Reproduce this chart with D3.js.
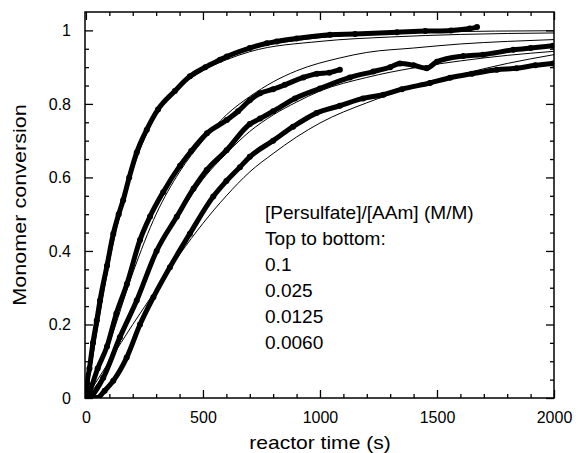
<!DOCTYPE html>
<html>
<head>
<meta charset="utf-8">
<script src="https://cdn.jsdelivr.net/npm/d3@7"></script>
<style>
  body { margin: 0; background: #fff; }
  svg { display: block; }
  text { font-family: "Liberation Sans", Arial, sans-serif; fill: #000; }
</style>
</head>
<body>
<svg id="chart" width="578" height="453"></svg>
<script>
// measured series, [time (s), conversion], top to bottom
const data01 = [[0,0],[5,0.04],[15,0.08],[30,0.15],[46,0.21],[60,0.265],[90,0.36],[117,0.447],[140,0.5],[159,0.538],[185,0.6],[217,0.668],[260,0.73],[308,0.785],[380,0.835],[444,0.875],[510,0.9],[573,0.92],[602,0.929],[700,0.952],[773,0.965],[815,0.97],[900,0.978],[1043,0.988],[1150,0.99],[1329,0.995],[1450,0.998],[1560,1.0],[1640,1.005],[1671,1.009]]
const data025 = [[0,0],[17,0.02],[50,0.08],[90,0.14],[130,0.23],[175,0.31],[231,0.43],[274,0.494],[330,0.56],[402,0.632],[450,0.672],[517,0.72],[602,0.756],[650,0.78],[700,0.81],[744,0.829],[800,0.84],[850,0.852],[929,0.872],[987,0.882],[1040,0.885],[1085,0.893]]
const data0125 = [[0,0],[30,0.01],[74,0.055],[145,0.165],[217,0.265],[302,0.4],[388,0.493],[460,0.57],[516,0.62],[601,0.674],[700,0.745],[744,0.76],[800,0.78],[893,0.815],[1000,0.842],[1128,0.872],[1228,0.888],[1300,0.9],[1342,0.91],[1400,0.905],[1456,0.897],[1500,0.915],[1612,0.93],[1697,0.934],[1826,0.947],[1900,0.952],[1996,0.958]]
const data0060 = [[0,0],[46,0],[80,0.02],[117,0.047],[174,0.11],[231,0.2],[288,0.274],[359,0.356],[444,0.447],[544,0.548],[600,0.59],[658,0.628],[700,0.656],[800,0.7],[885,0.738],[985,0.775],[1085,0.795],[1184,0.815],[1271,0.825],[1350,0.84],[1470,0.857],[1556,0.871],[1650,0.882],[1756,0.893],[1840,0.897],[1920,0.905],[1996,0.91]]
const measured = [data01, data025, data0125, data0060]

// model curves (thin lines)
const model01 = [[0,0],[50,0.2],[100,0.38],[150,0.52],[200,0.63],[300,0.775],[400,0.855],[500,0.9],[600,0.93],[700,0.95],[800,0.963],[1000,0.98],[1200,0.99],[1500,0.996],[2000,0.999]]
const model01b = [[0,0],[50,0.19],[100,0.37],[150,0.51],[200,0.62],[300,0.77],[400,0.845],[500,0.89],[600,0.92],[700,0.942],[1000,0.97],[1300,0.982],[1600,0.989],[2000,0.993]]
const model025 = [[0,0],[100,0.15],[200,0.34],[300,0.5],[400,0.615],[500,0.7],[600,0.77],[700,0.82],[800,0.86],[900,0.89],[1085,0.925],[1200,0.94],[1400,0.952],[1600,0.963],[1800,0.97],[2000,0.975]]
const model0125 = [[0,0],[100,0.09],[200,0.24],[300,0.39],[400,0.5],[500,0.595],[600,0.665],[700,0.725],[800,0.77],[900,0.805],[1000,0.835],[1200,0.872],[1400,0.898],[1600,0.917],[1800,0.932],[2000,0.943]]
const model0060 = [[0,0],[100,0.1],[200,0.2],[300,0.295],[400,0.39],[500,0.475],[600,0.55],[700,0.615],[800,0.665],[900,0.71],[1000,0.748],[1200,0.803],[1400,0.846],[1600,0.88],[1800,0.91],[2000,0.934]]
const models = [model01, model01b, model025, model0125, model0060]

const xTicks = [0, 500, 1000, 1500, 2000]
const yTicks = [0, 0.2, 0.4, 0.6, 0.8, 1]
const yTickLabels = ["0", "0.2", "0.4", "0.6", "0.8", "1"]
const legendLines = ["[Persulfate]/[AAm] (M/M)", "Top to bottom:", "0.1", "0.025", "0.0125", "0.0060"]

const svg = d3.select("#chart")
const mLeft = 85, mRight = 554, mTop = 12, mBottom = 398

const x = d3.scaleLinear().domain([-4, 2000]).range([mLeft, mRight])
const y = d3.scaleLinear().domain([0, 1.05]).range([mBottom, mTop])

svg.append("clipPath").attr("id", "clip")
    .append("rect").attr("x", mLeft).attr("y", mTop).attr("width", mRight - mLeft).attr("height", mBottom - mTop)

const path = d3.line().x(d => x(d[0])).y(d => y(d[1])).curve(d3.curveMonotoneX)

const marks = svg.append("g").attr("clip-path", "url(#clip)")

measured.forEach(s => {
    marks.append("path")
        .attr("d", path(s))
        .attr("fill", "none")
        .attr("stroke", "#000")
        .attr("stroke-width", 5)
    marks.append("g").selectAll("circle")
        .data(s)
        .enter()
        .append("circle")
        .attr("cx", d => x(d[0]))
        .attr("cy", d => y(d[1]))
        .attr("r", 3)
        .attr("fill", "#000")
})

models.forEach(s => {
    marks.append("path")
        .attr("d", path(s))
        .attr("fill", "none")
        .attr("stroke", "#000")
        .attr("stroke-width", 1)
})

// frame
svg.append("rect")
    .attr("x", mLeft).attr("y", mTop)
    .attr("width", mRight - mLeft).attr("height", mBottom - mTop)
    .attr("fill", "none").attr("stroke", "#000").attr("stroke-width", 1.5)

// inward ticks on all four sides
const minorX = d3.range(100, 2000, 100).filter(v => v % 500)
const minorY = d3.range(0.05, 1.05, 0.05).filter(v => Math.abs(v * 5 - Math.round(v * 5)) > 1e-6)

const axB = d3.axisBottom(x).tickValues(xTicks).tickSizeInner(-8).tickSizeOuter(0).tickFormat(d3.format("d")).tickPadding(14)
const axT = d3.axisTop(x).tickValues(xTicks).tickSizeInner(-8).tickSizeOuter(0).tickFormat("")
const axL = d3.axisLeft(y).tickValues(yTicks).tickSizeInner(-8).tickSizeOuter(0).tickFormat((d, i) => yTickLabels[i]).tickPadding(14)
const axR = d3.axisRight(y).tickValues(yTicks).tickSizeInner(-8).tickSizeOuter(0).tickFormat("")

function styleAxis(g) {
    g.select(".domain").remove()
    g.selectAll("line").attr("stroke", "#000").attr("stroke-width", 1.3)
    g.selectAll("text").attr("font-size", 16).attr("font-family", "Liberation Sans, Arial, sans-serif").attr("fill", "#000")
}

svg.append("g").attr("transform", `translate(0,${mBottom})`).call(axB).call(styleAxis)
svg.append("g").attr("transform", `translate(0,${mTop})`).call(axT).call(styleAxis)
svg.append("g").attr("transform", `translate(${mLeft},0)`).call(axL).call(styleAxis)
svg.append("g").attr("transform", `translate(${mRight},0)`).call(axR).call(styleAxis)

svg.append("g").attr("transform", `translate(0,${mBottom})`)
    .call(d3.axisBottom(x).tickValues(minorX).tickSizeInner(-4).tickSizeOuter(0).tickFormat("")).call(styleAxis)
svg.append("g").attr("transform", `translate(0,${mTop})`)
    .call(d3.axisTop(x).tickValues(minorX).tickSizeInner(-4).tickSizeOuter(0).tickFormat("")).call(styleAxis)
svg.append("g").attr("transform", `translate(${mLeft},0)`)
    .call(d3.axisLeft(y).tickValues(minorY).tickSizeInner(-4).tickSizeOuter(0).tickFormat("")).call(styleAxis)
svg.append("g").attr("transform", `translate(${mRight},0)`)
    .call(d3.axisRight(y).tickValues(minorY).tickSizeInner(-4).tickSizeOuter(0).tickFormat("")).call(styleAxis)

// axis titles (source text is horizontally stretched)
svg.append("text")
    .attr("transform", `translate(${(x(0) + x(2000)) / 2},449) scale(1.17,1)`)
    .attr("text-anchor", "middle")
    .attr("font-size", 18)
    .text("reactor time (s)")

svg.append("text")
    .attr("transform", `translate(26,205) rotate(-90) scale(1.2,1)`)
    .attr("text-anchor", "middle")
    .attr("font-size", 18)
    .text("Monomer conversion")

// annotation
svg.append("g").selectAll("text")
    .data(legendLines)
    .enter()
    .append("text")
    .attr("transform", (d, i) => `translate(265,${219 + i * 26}) scale(1.06,1)`)
    .attr("font-size", 18)
    .text(d => d)
</script>
</body>
</html>
